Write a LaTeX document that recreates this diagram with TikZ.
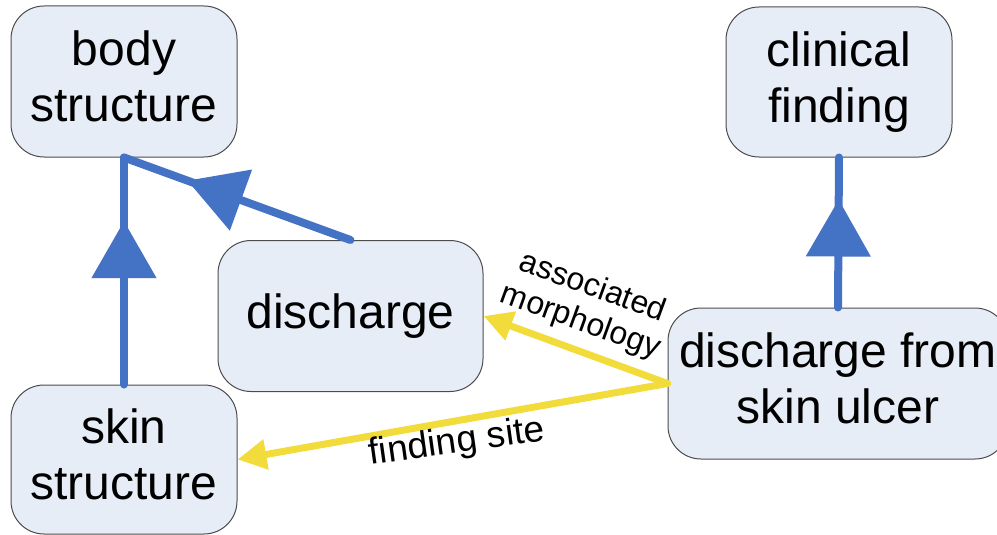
\documentclass[tikz,border=0pt]{standalone}
\usepackage{fontspec}
\setmainfont{Liberation Sans}
\usetikzlibrary{arrows.meta,decorations.markings}
\definecolor{isablue}{HTML}{4472C4}
\definecolor{boxfill}{HTML}{E7EDF7}
\definecolor{attryellow}{HTML}{F2DC3C}
\begin{document}
\begin{tikzpicture}[x=1pt,y=-1pt,
  concept/.style={draw=black!70, line width=1pt, fill=boxfill,
    rounded corners=33pt, align=center, inner sep=0pt, text depth=10pt,
    font=\fontsize{48}{56}\selectfont},
  isa/.style={draw=isablue, line width=8pt, line cap=round, line join=round,
    postaction={decorate},
    decoration={markings, mark=at position 0.72 with
      {\arrow{Triangle[length=57pt,width=63pt]}}}},
  attr/.style={draw=attryellow, line width=7pt, line cap=round,
    -{Triangle[length=29pt,width=29pt]}},
  rel/.style={align=center, inner sep=0pt}]
\useasboundingbox (0,0) rectangle (997,535);
\begin{scope}
\clip (0,0) rectangle (997,535);
% concepts
\node[concept, minimum width=226pt, minimum height=151pt] (body) at (124,81.5) {body\\structure};
\node[concept, minimum width=226pt, minimum height=150pt] (clinical) at (839,82) {clinical\\finding};
\node[concept, minimum width=265pt, minimum height=151pt] (discharge) at (350.5,316) {discharge};
\node[concept, minimum width=226pt, minimum height=149pt] (skin) at (124,459.5) {skin\\structure};
\node[concept, minimum width=340pt, minimum height=151pt] (ulcer) at (838,383.5) {discharge from\\skin ulcer};
% is-a links
\draw[isa] (skin.north) -- (body.south);
\draw[isa] (discharge.north) -- (body.south);
\draw[isa] (ulcer.north) -- (clinical.south);
% attribute links
\draw[attr] (ulcer.west) -- (discharge.east);
\draw[attr] (ulcer.west) -- (skin.east);
% attribute labels
\node[rel, rotate=-20, font=\fontsize{32}{36}\selectfont] (amlabel) at (586.5,305) {associated\\morphology};
\node[rel, rotate=8, font=\fontsize{37}{42}\selectfont] (fslabel) at (457,443) {finding site};
\end{scope}
\end{tikzpicture}
\end{document}
